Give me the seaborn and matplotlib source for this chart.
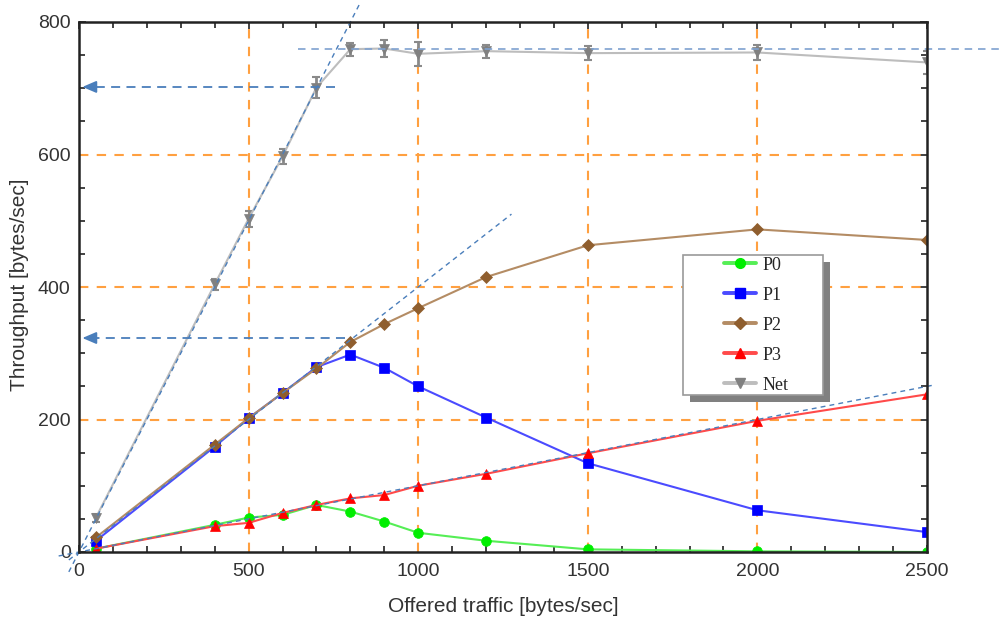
import matplotlib
matplotlib.use("Agg")
import numpy as np
import pandas as pd
import matplotlib.pyplot as plt
from matplotlib.lines import Line2D
from matplotlib.patches import Rectangle
from matplotlib.ticker import MultipleLocator
import seaborn as sns

# ---- measured throughput per priority class ----
offered = [50, 400, 500, 600, 700, 800, 900, 1000, 1200, 1500, 2000, 2500]
p0 = [5, 41, 52, 56, 71, 61, 46, 29, 17, 4, 1, 0]
p1 = [17, 159, 202, 240, 279, 298, 278, 250, 203, 134, 63, 30]
p2 = [22, 162, 202, 240, 277, 317, 344, 368, 415, 463, 487, 471]
p3 = [5, 39, 44, 59, 71, 81, 86, 100, 118, 149, 198, 238]
net = [52, 404, 503, 597, 701, 759, 760, 752, 756, 753, 754, 739]
net_err = [6, 8, 12, 12, 16, 10, 13, 18, 10, 11, 12, 17]

series_names = ["P0", "P1", "P2", "P3", "Net"]
series_values = [p0, p1, p2, p3, net]

# ---- reference guides ----
guide_slopes = [1.0, 0.4, 0.1]
guide_x_start = [-30, -30, -60]
guide_x_end = [830, 1275, 2525]
saturation_level = 760
saturation_x = [645, 2740]
arrow_levels = [702, 323]
arrow_x_start = [756, 785]
arrow_x_tip = 10

x_major = [0, 500, 1000, 1500, 2000, 2500]
y_major = [0, 200, 400, 600, 800]

df = pd.DataFrame({
    "offered": np.tile(offered, len(series_names)),
    "throughput": np.concatenate(series_values),
    "cls": np.repeat(series_names, len(offered)),
})

sns.set_theme(style="white")
plt.rcParams["font.family"] = ["Liberation Sans", "DejaVu Sans"]

styles = {
    "P0":  dict(line="#55ee55", face="#00ee00", marker="o", ms=7),
    "P1":  dict(line="#4b4bff", face="#0000ff", marker="s", ms=6.5),
    "P2":  dict(line="#b48c64", face="#8f5e2e", marker="D", ms=6),
    "P3":  dict(line="#ff4a4a", face="#ff0000", marker="^", ms=7),
    "Net": dict(line="#bdbdbd", face="#808080", marker="v", ms=7),
}

fig = plt.figure(figsize=(10.04, 6.2), dpi=100)
ax = fig.add_axes([79 / 1004, 68 / 620, 848 / 1004, 530 / 620])
ax.set_xlim(0, 2500)
ax.set_ylim(0, 800)

grid_color = "#ffa040"
for xv in x_major[1:-1]:
    ax.axvline(xv, color=grid_color, lw=1.5, ls=(0, (4.5, 4)), zorder=1)
for yv in y_major[1:-1]:
    ax.axhline(yv, color=grid_color, lw=1.5, ls=(0, (4.5, 4)), zorder=1)

# error bars for the aggregate throughput
ax.errorbar(offered, net, yerr=net_err, fmt="none", ecolor="#8a8a8a",
            elinewidth=2, capsize=3, capthick=1.5, zorder=3)

for name in series_names:
    st = styles[name]
    sns.lineplot(data=df[df["cls"] == name], x="offered", y="throughput",
                 ax=ax, color=st["line"], lw=1.5,
                 marker=st["marker"], markersize=st["ms"],
                 markerfacecolor=st["face"], markeredgecolor=st["face"],
                 markeredgewidth=0.5, errorbar=None, legend=False, zorder=4)

# dashed capacity guides
guide_color = "#4a7ebb"
for k, xs, xe in zip(guide_slopes, guide_x_start, guide_x_end):
    xx = np.array([xs, xe])
    ax.plot(xx, k * xx, color=guide_color, lw=1.0, ls=(0, (3.5, 3)),
            zorder=5, clip_on=False)
ax.plot(saturation_x, [saturation_level] * 2, color="#7ea1d0", lw=1.2,
        ls=(0, (4.5, 3.5)), zorder=5, clip_on=False)
for lvl, xs in zip(arrow_levels, arrow_x_start):
    ax.plot([xs, arrow_x_tip + 25], [lvl, lvl], color=guide_color, lw=1.3,
            ls=(0, (5, 3.5)), zorder=5)
    ax.annotate("", xy=(arrow_x_tip, lvl), xytext=(arrow_x_tip + 40, lvl),
                arrowprops=dict(arrowstyle="-|>,head_length=0.7,head_width=0.3",
                                color=guide_color, lw=1.3, shrinkA=0, shrinkB=0),
                zorder=6)

# axes frame and ticks
for sp in ax.spines.values():
    sp.set_color("#222222")
    sp.set_linewidth(1.8)
    sp.set_zorder(7)
ax.set_xticks(x_major)
ax.set_yticks(y_major)
ax.xaxis.set_minor_locator(MultipleLocator(100))
ax.yaxis.set_minor_locator(MultipleLocator(50))
ax.tick_params(which="both", direction="in", top=True, right=True,
               bottom=True, left=True, color="#222222", width=1.2)
ax.tick_params(which="major", length=5, labelsize=14, labelcolor="#333333")
ax.tick_params(axis="x", which="major", pad=8)
ax.tick_params(axis="y", which="major", pad=6)
ax.tick_params(which="minor", length=4)
ax.set_xlabel("Offered traffic [bytes/sec]", fontsize=15, color="#333333", labelpad=12)
ax.set_ylabel("Throughput [bytes/sec]", fontsize=15, color="#333333")
ax.yaxis.set_label_coords(-50 / 848, 0.505)

# legend box with drop shadow
box_x0, box_y0 = (683 - 79) / 848, (552 - 395) / 530
box_w, box_h = 140 / 848, 140 / 530
sh_dx, sh_dy = 7 / 848, 7 / 530
ax.add_patch(Rectangle((box_x0 + sh_dx, box_y0 - sh_dy), box_w, box_h,
                       transform=ax.transAxes, facecolor="#808080",
                       edgecolor="none", zorder=8, clip_on=False))
ax.add_patch(Rectangle((box_x0, box_y0), box_w, box_h, transform=ax.transAxes,
                       facecolor="white", edgecolor="#9a9a9a", lw=1.2,
                       zorder=9, clip_on=False))
handles = [Line2D([], [], color=styles[n]["line"], lw=2.8, marker=styles[n]["marker"],
                  markersize=styles[n]["ms"], markerfacecolor=styles[n]["face"],
                  markeredgecolor=styles[n]["face"]) for n in series_names]
leg = ax.legend(handles, series_names, loc="center left",
                bbox_to_anchor=((724 - 79) / 848, (552 - 325) / 530),
                frameon=False, borderpad=0, borderaxespad=0, numpoints=1,
                handlelength=1.75, handletextpad=0.4, labelspacing=0.72,
                prop={"family": "Liberation Serif", "size": 13})
leg.set_zorder(10)

fig.savefig("out.png", dpi=100)
